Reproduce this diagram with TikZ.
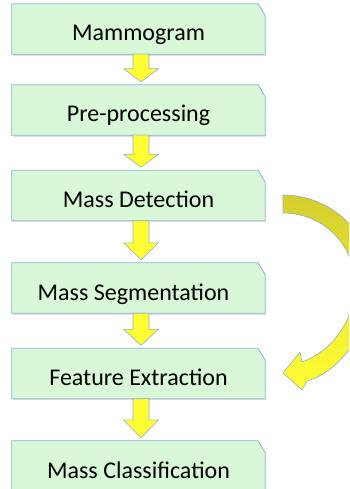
\documentclass[tikz,border=0pt]{standalone}
\usepackage{fontspec}
\setmainfont{Carlito}
\usetikzlibrary{calc}
\definecolor{boxfill}{RGB}{216,248,216}
\definecolor{boxline}{RGB}{140,178,212}
\definecolor{arrfill}{RGB}{255,255,51}
\definecolor{arrline}{RGB}{150,175,200}
\definecolor{olive}{RGB}{212,205,46}
\tikzset{
  stepbox/.style={minimum width=253pt, minimum height=50pt, inner sep=0pt,
    text height=24pt, text depth=0pt, font=\fontsize{24}{28}\selectfont},
  boxshape/.style={fill=boxfill, draw=boxline, line width=0.8pt},
  blk/.style={fill=arrfill, draw=arrline, line width=0.6pt, line join=round},
}
\newcommand{\blockarrow}[3]{%
  \filldraw[blk] let \p1=(#1.south), \p2=(#2.north) in
    (\x1-5.5pt,\y1) -- (\x1-5.5pt,\y2+3pt+#3) -- (\x1-15pt,\y2+3pt+#3) --
    (\x1+2.5pt,\y2+3pt) -- (\x1+20pt,\y2+3pt+#3) -- (\x1+10.5pt,\y2+3pt+#3) --
    (\x1+10.5pt,\y1) -- cycle;}
\begin{document}
\begin{tikzpicture}[x=1pt,y=-1pt]
\useasboundingbox (0,0) rectangle (349,489);
\clip (0,0) rectangle (349,489);
% box nodes (outline drawn below)
\node[stepbox] (b1) at (138.5,29) {};
\node[stepbox] (b2) at (138.5,110) {};
\node[stepbox] (b3) at (138.5,195.5) {};
\node[stepbox] (b4) at (138.5,288) {};
\node[stepbox] (b5) at (138.5,373.5) {};
\node[stepbox] (b6) at (138.5,466) {};
\foreach \n in {b1,b2,b3,b4,b5,b6}{
  \fill[black!12] ([xshift=1pt,yshift=-1.5pt]\n.south west) rectangle ([xshift=1pt,yshift=0pt]\n.south east);
  \filldraw[boxshape] (\n.south west) -- (\n.north west) -- ([xshift=-7pt]\n.north east)
    -- ([yshift=-12pt]\n.north east) -- (\n.south east) -- cycle;
}
\node[stepbox] at (b1) {Mammogram};
\node[stepbox] at (b2) {Pre-processing};
\node[stepbox] at (b3) {Mass Detection};
\node[stepbox] at ([xshift=-5pt]b4.center) {Mass Segmentation};
\node[stepbox] at (b5) {Feature Extraction};
\node[stepbox] at (b6) {Mass Classification};
% block arrows
\blockarrow{b1}{b2}{13pt}
\blockarrow{b2}{b3}{13pt}
\blockarrow{b3}{b4}{17pt}
\blockarrow{b4}{b5}{16pt}
\blockarrow{b5}{b6}{18pt}
% curved feedback arrow
\shadedraw[top color=olive, bottom color=arrfill, middle color=olive!45!arrfill,
  draw=arrline, line width=0.6pt, line join=round]
  (283,195) .. controls (333,195) and (373,235) .. (373,285)
  .. controls (372,328) and (340,372) .. (307,381)
  -- (302,390) -- (283,373) -- (300,352) -- (302,362)
  .. controls (330,352) and (355,322) .. (355,285)
  .. controls (355,245) and (323,213) .. (283,213) -- cycle;
\end{tikzpicture}
\end{document}
